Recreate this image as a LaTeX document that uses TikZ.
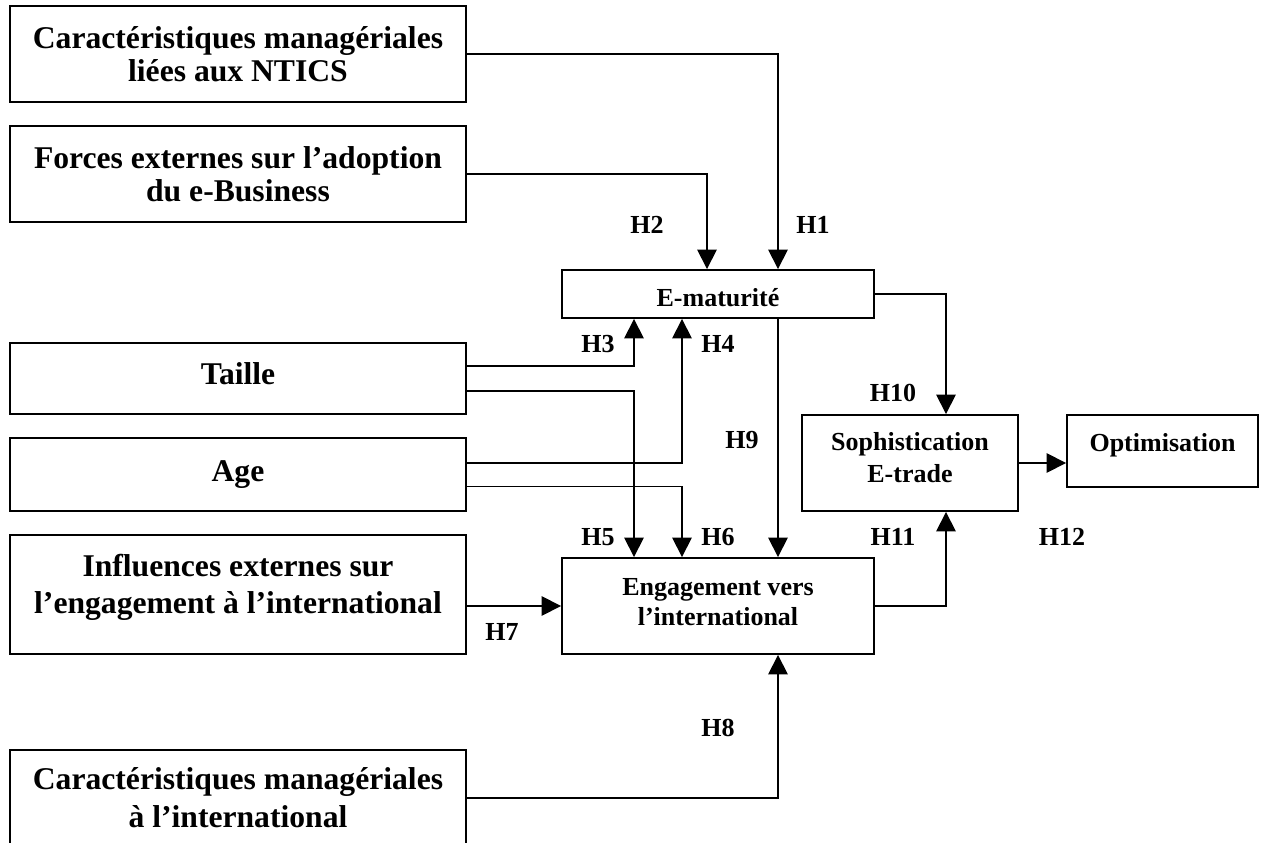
\documentclass[tikz,border=0pt]{standalone}
\usepackage{fontspec}
\setmainfont{Liberation Serif}
\usepackage{tikz}
\usetikzlibrary{arrows.meta, positioning, calc}
% invisible struts to nudge text inside a box
\newcommand{\dpad}[1]{\rule[-#1]{0pt}{#1}}
\newcommand{\hpad}[1]{\rule{0pt}{#1}}
\tikzset{
  bigbox/.style={
    draw, line width=1.1pt, align=center, inner sep=0pt,
    font=\fontsize{18}{19}\selectfont\bfseries, fill=white,
    minimum width=9.12cm, minimum height=1.92cm
  },
  smallbox/.style={
    draw, line width=1.1pt, align=center, inner sep=0pt,
    font=\fontsize{14.8}{17.5}\selectfont\bfseries, fill=white
  },
  hlabel/.style={
    font=\fontsize{14.8}{17.5}\selectfont\bfseries, inner sep=0pt
  },
  link/.style={
    -{Triangle[length=11pt, width=11pt]}, line width=1pt
  },
}

\begin{document}
\begin{tikzpicture}
  \useasboundingbox (0,0) rectangle (25.3,-16.86);

  % === Left column ===
  \node[bigbox] (ntics) at (4.76, -1.08)
    {Caractéristiques managériales\\liées aux NTICS};
  \node[bigbox] (forces) at (4.76, -3.48)
    {Forces externes sur l’adoption\\du e-Business};
  \node[bigbox, minimum height=1.42cm] (taille) at (4.76, -7.57) {Taille\dpad{6pt}};
  \node[bigbox, minimum height=1.46cm] (age) at (4.76, -9.49) {Age};
  \node[bigbox, minimum height=2.38cm, font=\fontsize{18}{21}\selectfont\bfseries] (influ) at (4.76, -11.89)
    {Influences externes sur\\l’engagement à l’international\dpad{12pt}};
  \node[bigbox, font=\fontsize{18}{21.5}\selectfont\bfseries] (cmi) at (4.76, -15.96)
    {Caractéristiques managériales\\à l’international};

  % === Centre ===
  \node[smallbox, minimum width=6.24cm, minimum height=0.96cm] (emat) at (14.36, -5.88) {\hpad{14pt}E-maturité};
  \node[smallbox, minimum width=6.24cm, minimum height=1.92cm] (engage) at (14.36, -12.12)
    {Engagement vers\\l’international\dpad{4.6pt}};

  % === Right ===
  \node[smallbox, minimum width=4.32cm, minimum height=1.92cm, font=\fontsize{14.8}{18}\selectfont\bfseries] (soph) at (18.2, -9.26)
    {Sophistication\\E-trade\dpad{6pt}};
  \node[smallbox, minimum width=3.82cm, minimum height=1.44cm, text depth=10pt] (optim) at (23.25, -9.02)
    {Optimisation};

  % === Arrows into E-maturite ===
  \draw[link] (ntics.east) -| ([xshift=1.2cm]emat.north);
  \draw[link] (forces.east) -| ([xshift=-0.22cm]emat.north);
  \draw[link] ([yshift=0.25cm]taille.east) -| ([xshift=-1.68cm]emat.south);
  \draw[link] ([yshift=0.23cm]age.east) -| ([xshift=-0.72cm]emat.south);

  % === Arrows into Engagement ===
  \draw[link] ([yshift=-0.25cm]taille.east) -| ([xshift=-1.68cm]engage.north);
  \draw[link] ([yshift=-0.24cm]age.east) -| ([xshift=-0.72cm]engage.north);
  \draw[link] ([xshift=1.2cm]emat.south) -- ([xshift=1.2cm]engage.north);
  \draw[link] (influ.east |- engage.west) -- (engage.west);
  \draw[link] (cmi.east) -| ([xshift=1.2cm]engage.south);

  % === Arrows to Sophistication and Optimisation ===
  \draw[link] (emat.east) -| ([xshift=0.72cm]soph.north);
  \draw[link] (engage.east) -| ([xshift=0.72cm]soph.south);
  \draw[link] (soph.east) -- (soph.east -| optim.west);

  % === Hypotheses ===
  \node[hlabel] (h1) at (16.26, -4.5) {H1};
  \node[hlabel] (h2) at (12.94, -4.5) {H2};
  \node[hlabel] (h3) at (11.96, -6.88) {H3};
  \node[hlabel] (h4) at (14.36, -6.88) {H4};
  \node[hlabel] (h5) at (11.96, -10.74) {H5};
  \node[hlabel] (h6) at (14.36, -10.74) {H6};
  \node[hlabel] (h7) at (10.04, -12.64) {H7};
  \node[hlabel] (h8) at (14.36, -14.56) {H8};
  \node[hlabel] (h9) at (14.84, -8.8) {H9};
  \node[hlabel] (h10) at (17.86, -7.86) {H10};
  \node[hlabel] (h11) at (17.86, -10.74) {H11};
  \node[hlabel] (h12) at (21.24, -10.74) {H12};

\end{tikzpicture}
\end{document}
